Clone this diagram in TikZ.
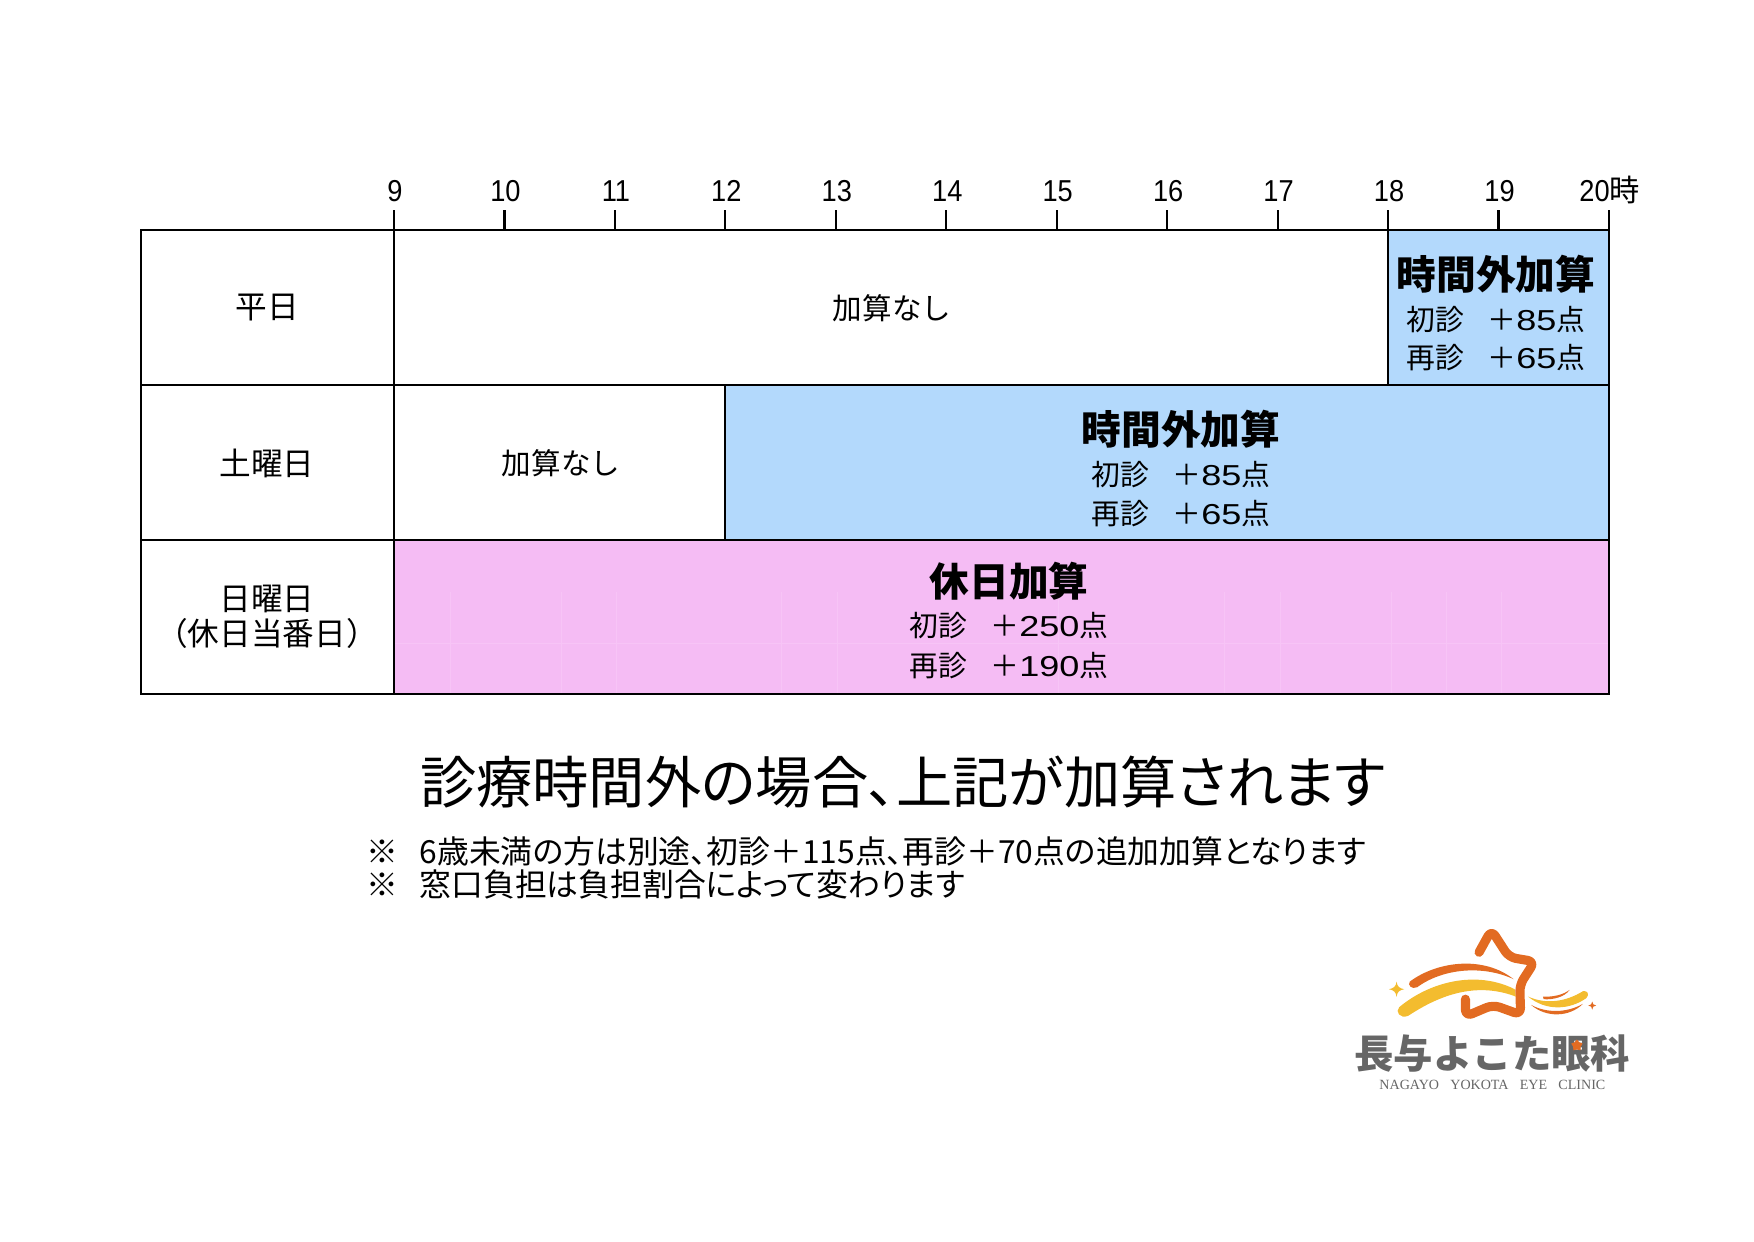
\documentclass[tikz,border=0pt]{standalone}
\usepackage{fontspec}
\usetikzlibrary{shapes.geometric}
\setmainfont{Noto Sans CJK JP}
\newfontfamily\paltfont[RawFeature=+palt]{Noto Sans CJK JP}
\newfontfamily\latinfont[FakeStretch=0.9]{Liberation Sans}
\newfontfamily\widefont[FakeStretch=1.25]{Liberation Sans}
\newfontfamily\logofont{Liberation Serif}
\definecolor{overtimeblue}{HTML}{B3D9FC}
\definecolor{holidaypink}{HTML}{F5BCF4}
\definecolor{holidayline}{HTML}{F7C4F6}
\definecolor{logoorange}{HTML}{E26B22}
\definecolor{logoyellow}{HTML}{F3BC2F}
\definecolor{logogray}{HTML}{666666}
\tikzset{
  cellbox/.style={draw=black, line width=0.65pt, fill=white},
  ticklabel/.style={font=\fontsize{8.6}{10}\selectfont\latinfont, anchor=base},
  daylabel/.style={font=\fontsize{9}{10}\selectfont, align=center, inner sep=0pt},
  plainlabel/.style={font=\fontsize{8.4}{10}\selectfont, inner sep=0pt},
  addhead/.style={font=\fontsize{11.3}{13}\selectfont\bfseries, inner sep=0pt},
  addline/.style={font=\fontsize{8.2}{10}\selectfont, inner sep=0pt},
  notetext/.style={font=\fontsize{9.05}{11}\selectfont\paltfont, inner sep=0pt, anchor=west},
  logostroke/.style={draw=logoorange, line width=2.6pt, line cap=round, line join=round},
}
\newcommand{\addpts}[2]{#1\hspace{0.8em}＋{\widefont #2}点}
\begin{document}
\begin{tikzpicture}[x=0.01cm, y=-0.01cm]
    \useasboundingbox (0,0) rectangle (1754,1241);
    % rows
    \draw[cellbox] (141,230) rectangle (394,385);
    \draw[cellbox] (141,385) rectangle (394,540);
    \draw[cellbox] (141,540) rectangle (394,694);
    \draw[cellbox] (394,230) rectangle (1388,385);
    \draw[cellbox, fill=overtimeblue] (1388,230) rectangle (1609,385);
    \draw[cellbox] (394,385) rectangle (725,540);
    \draw[cellbox, fill=overtimeblue] (725,385) rectangle (1609,540);
    \draw[cellbox, fill=holidaypink] (394,540) rectangle (1609,694);
    % faint seams
    \foreach \x in {450,561,616,781,837,1058,1224,1280,1391,1446,1501}
      \draw[holidayline, line width=0.2pt] (\x,592) -- (\x,693);
    \draw[holidayline, line width=0.2pt] (395,643) -- (1608,643);
    % hours
    \foreach \h [count=\i from 0] in {9,...,19} {
      \coordinate (tick\h) at (394+110.45*\i,210);
      \draw[line width=0.6pt] (tick\h) -- ++(0,20);
      \node[ticklabel] (hour\h) at (395+110.45*\i,201) {\h};
    }
    \coordinate (tick20) at (1609,210);
    \draw[line width=0.6pt] (tick20) -- ++(0,20);
    \node[ticklabel, anchor=base west, inner sep=0pt] (hour20) at (1609,201) {\llap{20}{\fontspec{Noto Sans CJK JP}時}};
    % days
    \node[daylabel] (weekday) at (267,308) {平日};
    \node[daylabel] (saturday) at (267,463) {土曜日};
    \node[daylabel] (sunday) at (267,617) {日曜日\\（休日当番日）};
    % no addition
    \node[plainlabel] (plainweek) at (892,308) {加算なし};
    \node[plainlabel] (plainsat) at (561,463) {加算なし};
    % weekday block
    \node[addhead] (headweek) at (1496,274) {時間外加算};
    \node[addline] (firstweek) at (1496,320) {\addpts{初診}{85}};
    \node[addline] (againweek) at (1496,358) {\addpts{再診}{65}};
    % saturday block
    \node[addhead] (headsat) at (1181,429) {時間外加算};
    \node[addline] (firstsat) at (1181,475) {\addpts{初診}{85}};
    \node[addline] (againsat) at (1181,514) {\addpts{再診}{65}};
    % sunday block
    \node[addhead] (headsun) at (1009,581) {休日加算};
    \node[addline] (firstsun) at (1009,626) {\addpts{初診}{250}};
    \node[addline] (againsun) at (1009,666) {\addpts{再診}{190}};
    % notes
    \node[font=\fontsize{16}{18}\selectfont\paltfont, inner sep=0pt] (caption) at (903,782) {診療時間外の場合、上記が加算されます};
    \node[notetext] (noteone) at (366,851) {※\hspace{0.66em}6歳未満の方は別途、初診＋115点、再診＋70点の追加加算となります};
    \node[notetext] (notetwo) at (366,884) {※\hspace{0.66em}窓口負担は負担割合によって変わります};
    % logo
    \begin{scope}[shift={(1320,900)}, x=0.00333cm, y=-0.00333cm]
      \draw[logostroke, rounded corners=2pt] (478,157) -- (515,90) -- (568,172) -- (645,185) -- (600,255) -- (603,345) -- (520,315) -- (437,350) -- (437,298);
      \fill[logoorange] (270,245) .. controls (350,185) and (490,165) .. (582,238) .. controls (490,195) and (370,205) .. (292,262) .. controls (275,270) and (262,255) .. (270,245) -- cycle;
      \fill[logoyellow] (238,322) .. controls (330,245) and (470,210) .. (585,268) -- (588,290) .. controls (470,245) and (360,285) .. (265,348) .. controls (240,358) and (225,335) .. (238,322) -- cycle;
      \fill[logoyellow] (625,290) .. controls (680,315) and (740,305) .. (790,274) .. controls (805,270) and (810,285) .. (800,295) .. controls (750,330) and (680,335) .. (625,290) -- cycle;
      \fill[logoorange] (670,290) .. controls (700,292) and (730,285) .. (750,270) .. controls (735,292) and (700,300) .. (672,298) -- cycle;
      \fill[logoorange] (634,315) .. controls (680,340) and (740,340) .. (790,312) .. controls (750,352) and (680,355) .. (634,315) -- cycle;
      \fill[logoyellow] (230,245) .. controls (232,260) and (238,265) .. (253,268) .. controls (238,271) and (232,276) .. (230,291) .. controls (228,276) and (222,271) .. (207,268) .. controls (222,265) and (228,260) .. (230,245) -- cycle;
      \fill[logoorange] (818,305) .. controls (819,313) and (822,316) .. (830,317) .. controls (822,318) and (819,321) .. (818,329) .. controls (817,321) and (814,318) .. (806,317) .. controls (814,316) and (817,313) .. (818,305) -- cycle;
      \node[font=\fontsize{11.2}{14}\selectfont\bfseries, text=logogray, inner sep=0pt] (logoname) at (518,460) {長与よこた眼科};
      \node[star, star points=5, fill=logoorange, minimum size=1.2mm, inner sep=0pt] (logospark) at (772,437) {};
      \node[font=\fontsize{4}{5}\selectfont\logofont, text=logogray, inner sep=0pt] (logoen) at (518,557) {NAGAYO\hspace{0.8em}YOKOTA\hspace{0.8em}EYE\hspace{0.8em}CLINIC};
    \end{scope}
\end{tikzpicture}
\end{document}
